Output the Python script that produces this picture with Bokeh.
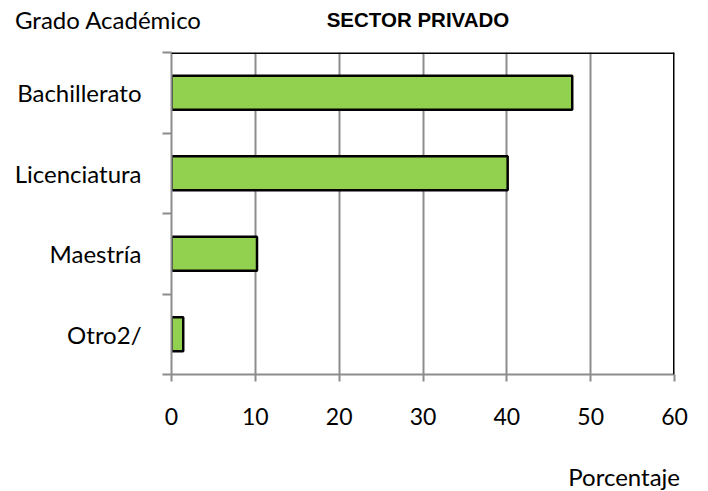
from bokeh.plotting import figure
from bokeh.layouts import column
from bokeh.models import FixedTicker, Range1d, Span, Div
from bokeh.embed import file_html
from bokeh.resources import INLINE

categories = ["Bachillerato", "Licenciatura", "Maestría", "Otro2/"]
values = [47.8, 40.1, 10.2, 1.4]
x_ticks = [0, 10, 20, 30, 40, 50, 60]

W = 700
HEAD_H = 46
MAIN_H = 398
FOOT_H = 491 - HEAD_H - MAIN_H

n = len(categories)
ypos = [n - i - 0.5 for i in range(n)]

# header text: axis title on the left, chart title centred over the plot area
head_html = (
    '<div style="position:relative;width:%dpx;height:%dpx;margin:0;padding:0;">'
    '<span style="position:absolute;left:15px;top:8px;white-space:nowrap;'
    "font-family:Lato;font-size:24px;line-height:24px;color:black;\">Grado Académico</span>"
    '<span style="position:absolute;left:418px;top:10px;transform:translateX(-50%%);'
    "white-space:nowrap;font-family:'Liberation Sans';font-weight:bold;font-size:20.5px;"
    'line-height:20.5px;color:black;">SECTOR PRIVADO</span>'
    '</div>' % (W, HEAD_H)
)
head = Div(text=head_html, width=W, height=HEAD_H, margin=0)

p = figure(width=W, height=MAIN_H, output_backend="svg", toolbar_location=None,
           x_range=Range1d(0, 60), y_range=Range1d(0, n),
           min_border_left=171, min_border_right=26, min_border_top=52 - HEAD_H,
           min_border_bottom=MAIN_H - (52 - HEAD_H) - 322, margin=0)
p.outline_line_color = None
p.background_fill_color = "white"

p.hbar(y=ypos, right=values, left=0, height=0.42, fill_color="#92D050",
       line_color="black", line_width=2.5)

p.xaxis.ticker = FixedTicker(ticks=x_ticks)
p.xaxis.axis_line_color = "#8c8c8c"
p.xaxis.axis_line_width = 2
p.xaxis.major_tick_line_color = "#8c8c8c"
p.xaxis.major_tick_line_width = 2
p.xaxis.major_tick_out = 7
p.xaxis.major_tick_in = 0
p.xaxis.minor_tick_line_color = None
p.xaxis.major_label_standoff = 26
p.xaxis.major_label_text_font = "Lato"
p.xaxis.major_label_text_font_size = "23px"
p.xaxis.major_label_text_color = "black"

p.yaxis.ticker = FixedTicker(ticks=ypos, minor_ticks=list(range(n + 1)))
p.yaxis.major_label_overrides = {y: c for y, c in zip(ypos, categories)}
p.yaxis.axis_line_color = "#8c8c8c"
p.yaxis.axis_line_width = 2
p.yaxis.major_tick_line_color = None
p.yaxis.major_tick_out = 0
p.yaxis.minor_tick_line_color = "#8c8c8c"
p.yaxis.minor_tick_line_width = 2
p.yaxis.minor_tick_out = 9
p.yaxis.minor_tick_in = 0
p.yaxis.major_label_standoff = 21
p.yaxis.major_label_text_font = "Lato"
p.yaxis.major_label_text_font_size = "24px"
p.yaxis.major_label_text_color = "black"

p.xgrid.grid_line_color = "#8c8c8c"
p.xgrid.grid_line_width = 2
p.ygrid.grid_line_color = None

p.add_layout(Span(location=n, dimension="width", line_color="black", line_width=3))
p.add_layout(Span(location=60, dimension="height", line_color="black", line_width=3))

# footer: x axis title, right-aligned under the plot
foot_html = (
    '<div style="position:relative;width:%dpx;height:%dpx;margin:0;padding:0;">'
    '<span style="position:absolute;right:20px;top:21px;white-space:nowrap;'
    'font-family:Lato;font-size:24px;line-height:24px;color:black;">Porcentaje</span>'
    '</div>' % (W, FOOT_H)
)
foot = Div(text=foot_html, width=W, height=FOOT_H, margin=0)

layout = column(head, p, foot, spacing=0)
open("out.html", "w").write(file_html(layout, INLINE))
